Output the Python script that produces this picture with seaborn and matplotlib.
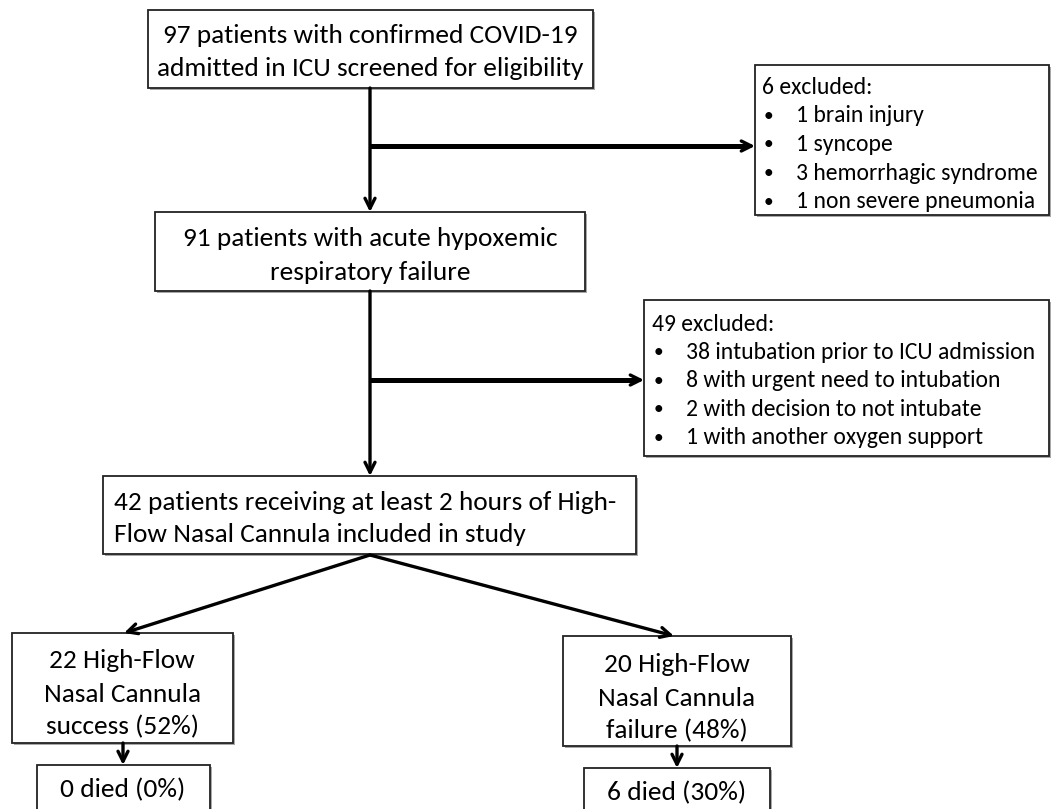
import matplotlib
matplotlib.use("Agg")
import matplotlib.pyplot as plt
import seaborn as sns
from matplotlib.patches import Rectangle

# textos del diagrama de flujo
cribado = ["97 patients with confirmed COVID-19", "admitted in ICU screened for eligibility"]
hipoxemia = ["91 patients with acute hypoxemic", "respiratory failure"]
incluidos = ["42 patients receiving at least 2 hours of High-", "Flow Nasal Cannula included in study"]
excl_1_titulo = "6 excluded:"
excl_1 = ["1 brain injury", "1 syncope", "3 hemorrhagic syndrome", "1 non severe pneumonia"]
excl_2_titulo = "49 excluded:"
excl_2 = ["38 intubation prior to ICU admission", "8 with urgent need to intubation",
          "2 with decision to not intubate", "1 with another oxygen support"]
exito = ["22 High-Flow", "Nasal Cannula", "success (52%)"]
fracaso = ["20 High-Flow", "Nasal Cannula", "failure (48%)"]
muertes_exito = "0 died (0%)"
muertes_fracaso = "6 died (30%)"

sns.set_theme(style="white")
plt.rcParams["font.family"] = ["Carlito", "DejaVu Sans"]
plt.rcParams["text.color"] = "black"

W, H = 1051, 809
fig = plt.figure(figsize=(W / 100, H / 100), dpi=100)
ax = fig.add_axes([0, 0, 1, 1])
ax.set_xlim(0, W)
ax.set_ylim(H, 0)
ax.axis("off")

GRANDE = 19.7
PEQ = 17
BALA = 14


def caja(x0, y0, x1, y1):
    # sombra ligera + caja
    ax.add_patch(Rectangle((x0 + 2, y0 + 2), x1 - x0, y1 - y0, fc="#a8a8a8", ec="none", zorder=1))
    ax.add_patch(Rectangle((x0, y0), x1 - x0, y1 - y0, fc="white", ec="#222222", lw=1.3, zorder=2))


def lineas_centradas(lineas, xc, y_primera, paso, size):
    for i, t in enumerate(lineas):
        ax.text(xc, y_primera + i * paso, t, ha="center", va="center", fontsize=size, zorder=3)


def lista(titulo, items, x_tit, x_bala, x_txt, y0, paso):
    ax.text(x_tit, y0, titulo, ha="left", va="center", fontsize=PEQ, zorder=3)
    for i, t in enumerate(items):
        y = y0 + (i + 1) * paso
        ax.text(x_bala, y, "\u2022", ha="left", va="center", fontsize=BALA, zorder=3)
        ax.text(x_txt, y, t, ha="left", va="center", fontsize=PEQ, zorder=3)


def flecha(x0, y0, x1, y1):
    ax.annotate("", xy=(x1, y1), xytext=(x0, y0),
                arrowprops=dict(arrowstyle="->,head_length=0.6,head_width=0.3",
                                lw=2.4, color="black", shrinkA=0, shrinkB=0), zorder=4)


def linea(x0, y0, x1, y1, lw=2.4):
    ax.plot([x0, x1], [y0, y1], color="black", lw=lw, solid_capstyle="butt", zorder=4)


# caja 1
caja(148, 10, 593, 88)
lineas_centradas(cribado, 370, 35, 33, GRANDE)
# caja 2
caja(155, 212, 585, 291)
lineas_centradas(hipoxemia, 370, 238, 35, GRANDE)
# caja 3
caja(103, 476, 636, 554)
for i, t in enumerate(incluidos):
    ax.text(114, 503 + i * 31, t, ha="left", va="center", fontsize=GRANDE, zorder=3)

# exclusiones
caja(755, 65, 1049, 215)
lista(excl_1_titulo, excl_1, 762, 764, 796, 87, 28.7)
caja(644, 300, 1049, 456)
lista(excl_2_titulo, excl_2, 652, 654, 686, 324, 28.4)

# resultados
caja(12, 633, 233, 743)
lineas_centradas(exito, 122, 661, 33, GRANDE)
caja(563, 636, 791, 746)
lineas_centradas(fracaso, 677, 665, 33, GRANDE)
caja(37, 765, 210, 815)
ax.text(123, 790, muertes_exito, ha="center", va="center", fontsize=GRANDE, zorder=3)
caja(584, 768, 770, 815)
ax.text(677, 793, muertes_fracaso, ha="center", va="center", fontsize=GRANDE, zorder=3)

# conectores
flecha(370, 88, 370, 212)
linea(370, 146, 745, 146, lw=3.6)
flecha(740, 146, 755, 146)
flecha(370, 291, 370, 476)
linea(370, 380, 634, 380, lw=3.6)
flecha(630, 380, 644, 380)
flecha(370, 555, 124, 633)
flecha(370, 555, 674, 636)
flecha(123, 743, 123, 765)
flecha(677, 746, 677, 768)

fig.savefig("out.png", dpi=100, facecolor="white")
